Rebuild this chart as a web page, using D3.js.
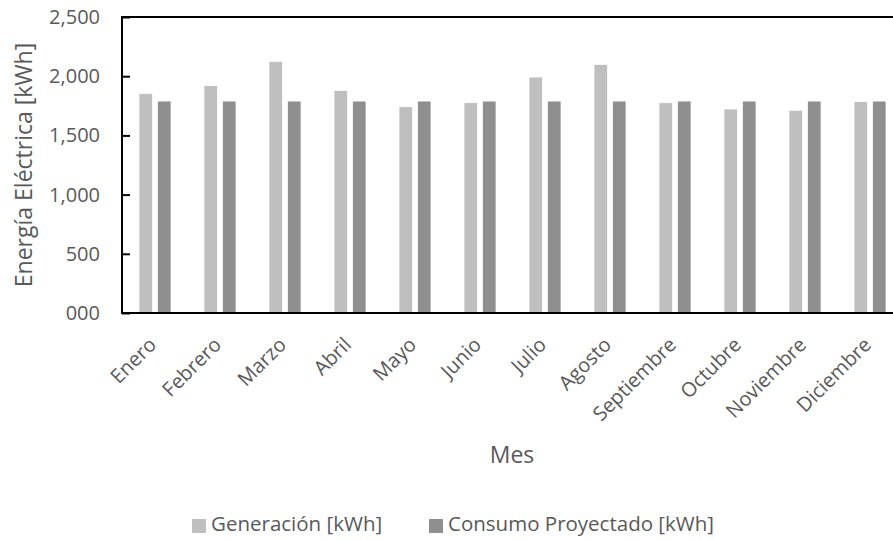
<!DOCTYPE html>
<html>
<head>
<meta charset="utf-8">
<script src="https://cdn.jsdelivr.net/npm/d3@7"></script>
<style>
  body { margin: 0; background: #fff; }
  text { font-family: "Open Sans", sans-serif; fill: #595959; }
</style>
</head>
<body>
<div id="chart"></div>
<script>
var months = ["Enero", "Febrero", "Marzo", "Abril", "Mayo", "Junio", "Julio", "Agosto", "Septiembre", "Octubre", "Noviembre", "Diciembre"];
var generacion = [1855, 1920, 2125, 1880, 1742, 1776, 1993, 2100, 1776, 1723, 1712, 1785];
var consumo = [1790, 1790, 1790, 1790, 1790, 1790, 1790, 1790, 1790, 1790, 1790, 1790];
var yTicks = [0, 500, 1000, 1500, 2000, 2500];
var yTickLabels = ["000", "500", "1,000", "1,500", "2,000", "2,500"];
var seriesNames = ["Generación [kWh]", "Consumo Proyectado [kWh]"];
var seriesColors = ["#bfbfbf", "#8f8f8f"];

var width = 893, height = 540;
var margin = {top: 17, left: 122, bottom: 313};
var plotRight = margin.left + 65 * months.length;

var svg = d3.select("#chart").append("svg")
    .attr("width", width)
    .attr("height", height);

var x = d3.scaleBand()
    .domain(months)
    .range([margin.left, plotRight])
    .paddingInner(0)
    .paddingOuter(0);

var x1 = d3.scaleBand()
    .domain([0, 1])
    .range([17, 65 - 16])
    .paddingInner(0.27);

var y = d3.scaleLinear()
    .domain([0, 2500])
    .range([margin.bottom, margin.top]);

// bars
var rows = months.map(function(m, i) { return {month: m, vals: [generacion[i], consumo[i]]}; });

svg.append("g").selectAll("g")
    .data(rows)
    .enter().append("g")
    .attr("transform", function(d) { return "translate(" + x(d.month) + ",0)"; })
    .selectAll("rect")
    .data(function(d) { return d.vals; })
    .enter().append("rect")
    .attr("x", function(d, i) { return x1(i); })
    .attr("width", x1.bandwidth())
    .attr("y", function(d) { return y(d); })
    .attr("height", function(d) { return y(0) - y(d); })
    .style("fill", function(d, i) { return seriesColors[i]; })
    .style("stroke", "#fff")
    .style("stroke-width", 0.75);

// plot frame (top / left / bottom)
svg.append("path")
    .attr("d", "M" + (plotRight + 5) + "," + y(2500) + "H" + margin.left + "V" + y(0) + "H" + (plotRight + 5))
    .style("fill", "none")
    .style("stroke", "#000")
    .style("stroke-width", 2);

// y axis
var yAxis = d3.axisLeft(y)
    .tickValues(yTicks)
    .tickFormat(function(d, i) { return yTickLabels[i]; })
    .tickSizeInner(-8)
    .tickSizeOuter(0)
    .tickPadding(22);

var gy = svg.append("g")
    .attr("transform", "translate(" + margin.left + ",0)")
    .call(yAxis);
gy.select(".domain").remove();
gy.selectAll("line").style("stroke", "#000").style("stroke-width", 2);
gy.selectAll("text").style("font-size", "20px").style("font-family", "'Open Sans', sans-serif").style("fill", "#595959");

// x labels
svg.append("g").selectAll("text")
    .data(months)
    .enter().append("text")
    .attr("transform", function(d) {
      return "translate(" + (x(d) + x.bandwidth() / 2 + 3) + "," + (margin.bottom + 33) + ") rotate(-45)";
    })
    .attr("text-anchor", "end")
    .style("font-size", "20px")
    .text(function(d) { return d; });

// axis titles
svg.append("text")
    .attr("x", 512)
    .attr("y", 463)
    .attr("text-anchor", "middle")
    .style("font-size", "23px")
    .text("Mes");

svg.append("text")
    .attr("transform", "translate(32,165) rotate(-90)")
    .attr("text-anchor", "middle")
    .style("font-size", "23px")
    .text("Energía Eléctrica [kWh]");

// legend
var legendX = [192, 429];
var lg = svg.append("g").selectAll("g")
    .data(seriesNames)
    .enter().append("g")
    .attr("transform", function(d, i) { return "translate(" + legendX[i] + ",519)"; });
lg.append("rect")
    .attr("width", 14)
    .attr("height", 14)
    .style("fill", function(d, i) { return seriesColors[i]; });
lg.append("text")
    .attr("x", 19)
    .attr("y", 12)
    .style("font-size", "20.5px")
    .text(function(d) { return d; });
</script>
</body>
</html>
